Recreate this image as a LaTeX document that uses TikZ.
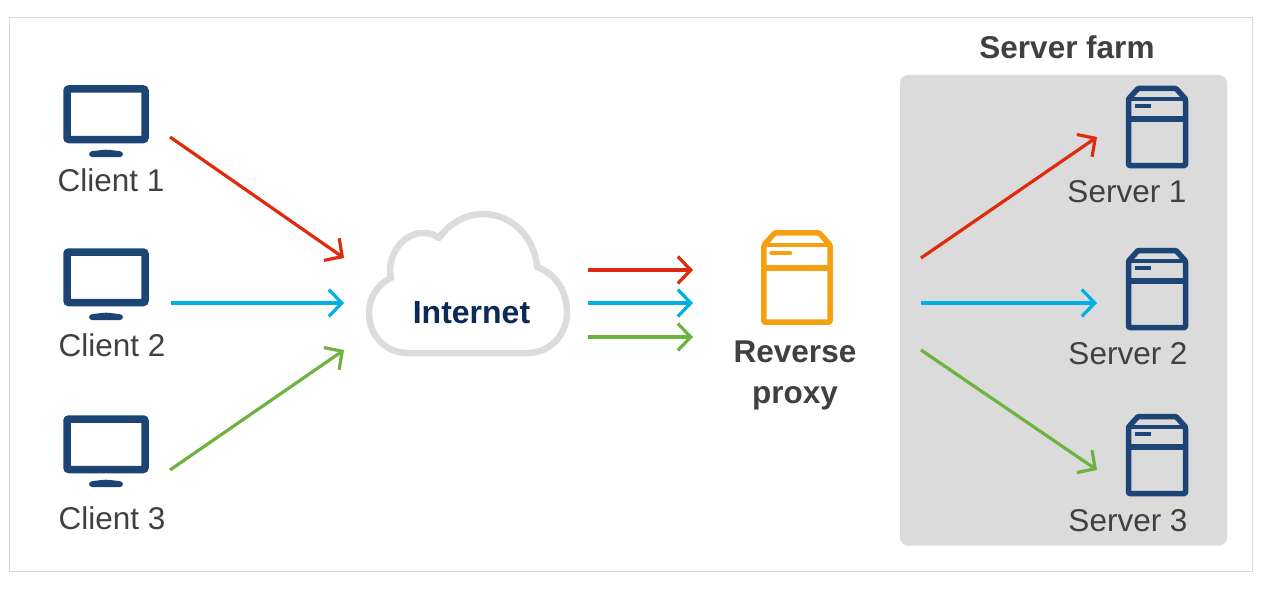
\documentclass[tikz,border=0pt]{standalone}
\usepackage{fontspec}
\setmainfont{Liberation Sans}
\usetikzlibrary{arrows.meta}
\definecolor{navyicon}{HTML}{1C4474}
\definecolor{orangeicon}{HTML}{F4A011}
\definecolor{redline}{HTML}{DF2A0D}
\definecolor{blueline}{HTML}{00B0E4}
\definecolor{greenline}{HTML}{6DB33F}
\definecolor{labeltext}{HTML}{404040}
\definecolor{nettext}{HTML}{0B2A57}
\definecolor{farmgray}{HTML}{DBDBDB}
\definecolor{cloudgray}{HTML}{DCDCDC}
\tikzset{
    lbl/.style={anchor=base, text=labeltext, font=\fontsize{31.5}{36}\selectfont},
    lblbold/.style={anchor=base, text=labeltext, font=\bfseries\fontsize{31.5}{36}\selectfont},
    flow/.style={->, line width=3.2pt},
    pics/monitoricon/.style={code={
        \draw[navyicon, line width=7.5pt, rounded corners=2pt] (-39,-25) rectangle (39,25.5);
        \fill[navyicon, rounded corners=3pt] (-17,43) -- (-17,37.5) -- (0,35.5) -- (17,37.5) -- (17,43) -- cycle;
    }},
    pics/servericon/.style={code={
        \draw[#1, line width=5.5pt, line join=round, rounded corners=1pt]
            (-28.5,38.5) -- (-28.5,-28) -- (-19,-38.5) -- (19,-38.5) -- (28.5,-28) -- (28.5,38.5) -- cycle;
        \draw[#1, line width=4pt] (-28.5,-28) -- (28.5,-28);
        \draw[#1, line width=5.5pt] (-28.5,-8) -- (28.5,-8);
        \draw[#1, line width=4.5pt] (-22,-21) -- (-6,-21);
    }},
}
\begin{document}
\begin{tikzpicture}[x=1pt, y=-1pt, >={Straight Barb[length=13pt, width=27pt, line width=3.2pt]}]
    \useasboundingbox (0,0) rectangle (1265,591);
    % 1. Frame and server farm panel
    \draw[black!15, line width=1pt] (9.5,17.5) rectangle (1252,571.5);
    \fill[farmgray, rounded corners=8pt] (900,75) rectangle (1227,545.5);
    \node[lblbold] (farm) at (1067,59) {Server farm};

    % 2. Clients
    \pic at (106,114) {monitoricon};
    \pic at (106,277) {monitoricon};
    \pic at (106,444) {monitoricon};
    \node[lbl] (client1) at (111,191) {Client 1};
    \node[lbl] (client2) at (112,356) {Client 2};
    \node[lbl] (client3) at (112,529) {Client 3};

    % 3. Internet cloud
    \draw[cloudgray, line width=6.5pt, line join=round]
        (408,353) .. controls (385,353) and (369,335) .. (369,313)
        .. controls (369,297) and (378,284) .. (391,278)
        .. controls (386,255) and (404,232) .. (424,233)
        .. controls (430,233) and (435,235) .. (439,238)
        .. controls (449,224) and (465,214) .. (483,214)
        .. controls (512,214) and (535,238) .. (537,267)
        .. controls (554,273) and (567,290) .. (567,312)
        .. controls (567,335) and (550,353) .. (527,353) -- cycle;
    \node[anchor=base, text=nettext, font=\bfseries\fontsize{32}{36}\selectfont] (internet) at (471.5,323) {Internet};

    % 4. Reverse proxy
    \pic[scale=1.16] at (797,277.5) {servericon={orangeicon, line cap=round}};
    \node[lblbold] (reverse) at (795,362) {Reverse};
    \node[lblbold] (proxy) at (795,403) {proxy};

    % 5. Servers
    \pic at (1157,127) {servericon={navyicon}};
    \pic at (1157,289) {servericon={navyicon}};
    \pic at (1157,455) {servericon={navyicon}};
    \node[lbl] (server1) at (1127,202) {Server 1};
    \node[lbl] (server2) at (1128,364) {Server 2};
    \node[lbl] (server3) at (1128,531) {Server 3};

    % 6. Arrow end points
    \coordinate (c1out) at (170,137);
    \coordinate (c2out) at (171,303);
    \coordinate (c3out) at (170,470);
    \coordinate (netin1) at (344,258);
    \coordinate (netin2) at (344,303);
    \coordinate (netin3) at (344,350);
    \coordinate (netout1) at (588,270);
    \coordinate (netout2) at (588,303);
    \coordinate (netout3) at (588,337);
    \coordinate (proxyin1) at (693,270);
    \coordinate (proxyin2) at (693,303);
    \coordinate (proxyin3) at (693,337);
    \coordinate (proxyout1) at (921,258);
    \coordinate (proxyout2) at (921,303);
    \coordinate (proxyout3) at (921,350);
    \coordinate (s1in) at (1097,137);
    \coordinate (s2in) at (1097,303);
    \coordinate (s3in) at (1097,470);

    % 7. Traffic arrows
    \draw[flow, redline] (c1out) -- (netin1);
    \draw[flow, blueline] (c2out) -- (netin2);
    \draw[flow, greenline] (c3out) -- (netin3);
    \draw[flow, redline] (netout1) -- (proxyin1);
    \draw[flow, blueline] (netout2) -- (proxyin2);
    \draw[flow, greenline] (netout3) -- (proxyin3);
    \draw[flow, redline] (proxyout1) -- (s1in);
    \draw[flow, blueline] (proxyout2) -- (s2in);
    \draw[flow, greenline] (proxyout3) -- (s3in);
\end{tikzpicture}
\end{document}
